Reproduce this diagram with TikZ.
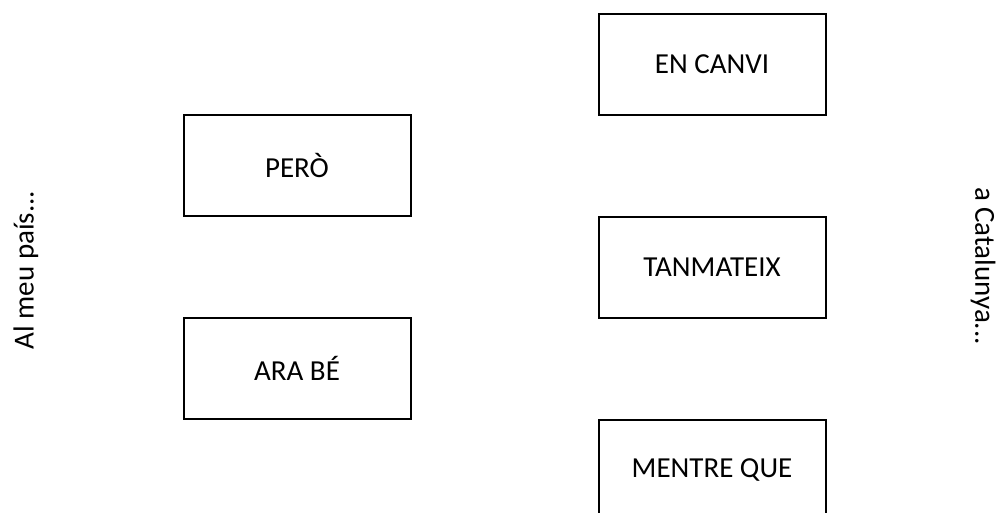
\documentclass[tikz,border=0pt]{standalone}
\usepackage{fontspec}
\setmainfont{Carlito}
\usepackage{tikz}

\begin{document}
\begin{tikzpicture}[
      x=1pt, y=-1pt,
      word/.style={
            rectangle, draw, line width=2pt,
            minimum width=227pt, minimum height=101pt,
            inner sep=0pt, text=black,
            font=\fontsize{29}{33}\selectfont
        },
      side/.style={
            inner sep=0pt, text=black,
            font=\fontsize{29}{33}\selectfont
        }
      ]
    \useasboundingbox (0,0) rectangle (996,512);
    \clip (0,0) rectangle (996,512);

    \node[word] (pero) at (297,165.5) {PERÒ};
    \node[word] (arabe) at (297,368) {ARA BÉ};
    \node[word] (encanvi) at (712,64) {EN CANVI};
    \node[word] (tanmateix) at (712,267) {TANMATEIX};
    \node[word] (mentreque) at (712,470) {MENTRE QUE};

    \node[side, rotate=90] (pais) at (26,270) {Al meu país...};
    \node[side, rotate=-90] (catalunya) at (983,266) {a Catalunya...};
  \end{tikzpicture}
\end{document}
